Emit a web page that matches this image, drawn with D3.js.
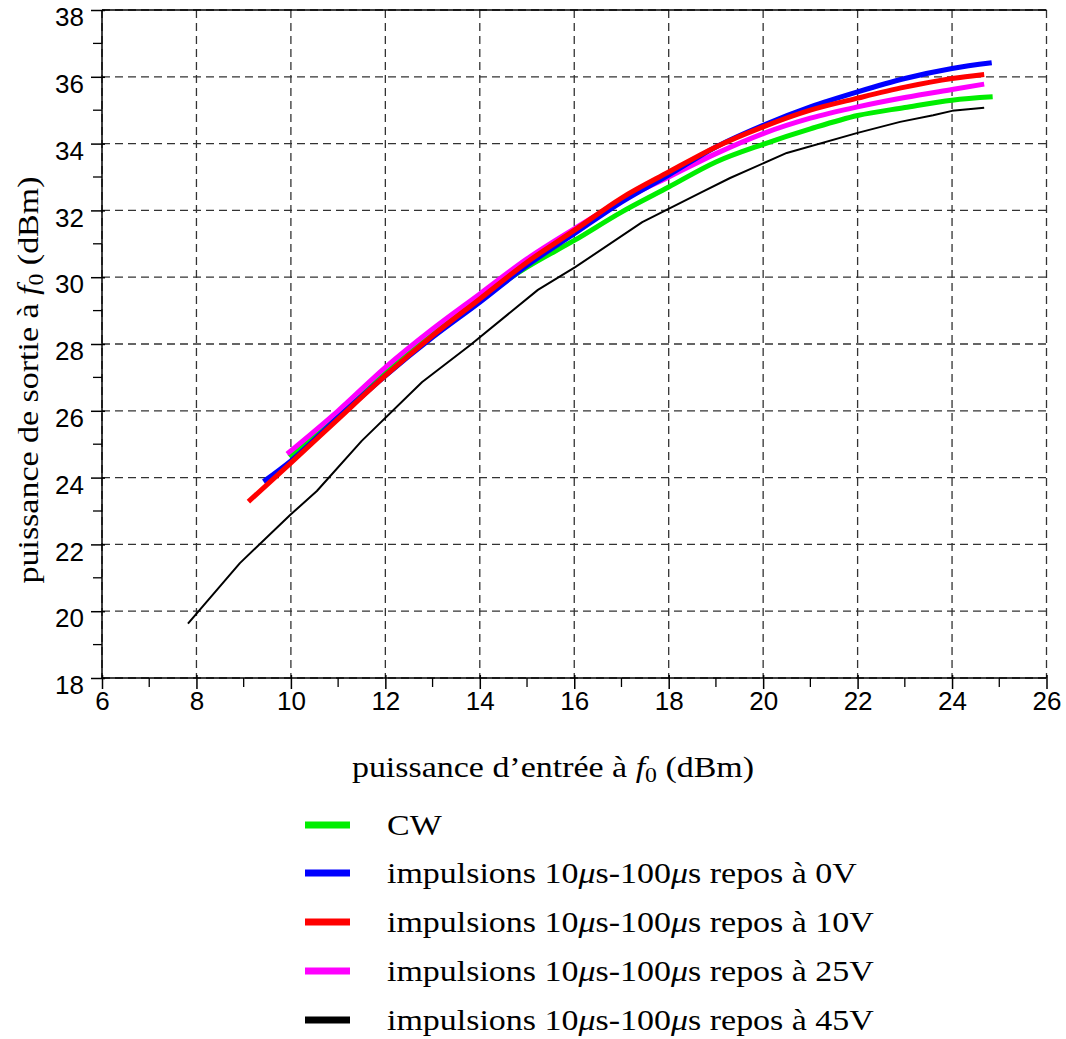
<!DOCTYPE html>
<html>
<head>
<meta charset="utf-8">
<script src="https://cdn.jsdelivr.net/npm/d3@7"></script>
<style>
  html, body { margin: 0; padding: 0; background: #fff; }
  svg { display: block; }
</style>
</head>
<body>
<svg id="chart" width="1066" height="1039"></svg>
<script>
// Input power (dBm) / output power (dBm) at f0, one array per bias condition
const cwData = [[9.96,24.63],[11,25.9],[12,27.15],[13,28.3],[14,29.35],[15,30.3],[16,31.1],[17,31.95],[18,32.7],[19,33.45],[20,33.98],[21,34.44],[22,34.84],[23,35.08],[24,35.3],[24.86,35.4]];
const pulse0V = [[9.42,23.88],[10,24.5],[11,25.8],[12,27.05],[13,28.2],[14,29.25],[15,30.35],[16,31.3],[17,32.25],[18,33.06],[19,33.9],[20,34.55],[21,35.1],[22,35.55],[23,35.95],[24,36.25],[24.84,36.42]];
const pulse10V = [[9.1,23.28],[10,24.44],[11,25.75],[12,27.05],[13,28.25],[14,29.35],[15,30.45],[16,31.4],[17,32.37],[18,33.15],[19,33.9],[20,34.5],[21,35.0],[22,35.36],[23,35.69],[24,35.95],[24.68,36.07]];
const pulse25V = [[9.92,24.71],[11,26.0],[12,27.3],[13,28.45],[14,29.5],[15,30.55],[16,31.45],[17,32.3],[18,33.0],[19,33.7],[20,34.3],[21,34.76],[22,35.1],[23,35.38],[24,35.62],[24.68,35.78]];
const pulse45V = [[7.82,19.63],[8.92,21.44],[10.0,22.9],[10.55,23.6],[11.5,25.1],[12.78,26.86],[13.8,27.97],[15.23,29.62],[16.02,30.3],[17.44,31.65],[18.7,32.55],[19.3,32.97],[20.5,33.72],[22.0,34.32],[22.9,34.65],[23.6,34.85],[24.0,34.98],[24.68,35.07]];

const xTicks = [6, 8, 10, 12, 14, 16, 18, 20, 22, 24, 26];
const yTicks = [18, 20, 22, 24, 26, 28, 30, 32, 34, 36, 38];
const xMinorTicks = [7, 9, 11, 13, 15, 17, 19, 21, 23, 25];
const yMinorTicks = [19, 21, 23, 25, 27, 29, 31, 33, 35, 37];

const seriesLabels = ["CW", "0V", "10V", "25V", "45V"];
const seriesColors = ["#00ee00", "#0000ff", "#ff0000", "#ff00ff", "#000000"];
const seriesData = [cwData, pulse0V, pulse10V, pulse25V, pulse45V];

const svg = d3.select("#chart");
const L = 102, R = 1046.5, T = 10, B = 678;

const x = d3.scaleLinear().domain([6, 26]).range([L, R]);
const y = d3.scaleLinear().domain([18, 38]).range([B, T]);

// dashed grid
const grid = svg.append("g");
grid.selectAll("line.gx").data(xTicks).join("line")
  .attr("x1", d => x(d)).attr("x2", d => x(d))
  .attr("y1", T).attr("y2", B)
  .attr("stroke", "#333").attr("stroke-width", 1.3)
  .attr("stroke-dasharray", "8,5");
grid.selectAll("line.gy").data(yTicks).join("line")
  .attr("x1", L).attr("x2", R)
  .attr("y1", d => y(d)).attr("y2", d => y(d))
  .attr("stroke", "#333").attr("stroke-width", 1.3)
  .attr("stroke-dasharray", "8,5");

// frame: solid left, bottom and top edges
svg.append("line").attr("x1", L).attr("x2", L).attr("y1", T).attr("y2", B)
  .attr("stroke", "#000").attr("stroke-width", 1.5);
svg.append("line").attr("x1", L).attr("x2", R).attr("y1", B).attr("y2", B)
  .attr("stroke", "#000").attr("stroke-width", 1.5);
svg.append("line").attr("x1", L).attr("x2", R).attr("y1", T).attr("y2", T)
  .attr("stroke", "#000").attr("stroke-width", 1.5);

// axes
const tickFont = "'Liberation Sans', Arial, sans-serif";
const xAxis = svg.append("g").attr("transform", `translate(0,${B})`)
  .call(d3.axisBottom(x).tickValues(xTicks).tickSize(11).tickSizeOuter(0).tickPadding(6).tickFormat(d3.format("d")));
const yAxis = svg.append("g").attr("transform", `translate(${L},0)`)
  .call(d3.axisLeft(y).tickValues(yTicks).tickSize(11).tickSizeOuter(0).tickPadding(7).tickFormat(d3.format("d")));
[xAxis, yAxis].forEach(a => {
  a.select(".domain").remove();
  a.selectAll("line").attr("stroke", "#000").attr("stroke-width", 1.5);
  a.selectAll("text").attr("font-family", tickFont).attr("font-size", 26).attr("fill", "#000");
});
xAxis.selectAll(".tick line").attr("y1", -3);
xAxis.selectAll(".tick text").attr("y", 14);
yAxis.selectAll(".tick line").attr("x1", 3);
yAxis.selectAll(".tick text").attr("dy", "0.6em");

// minor ticks
svg.append("g").selectAll("line").data(xMinorTicks).join("line")
  .attr("x1", d => x(d)).attr("x2", d => x(d))
  .attr("y1", B).attr("y2", B + 9)
  .attr("stroke", "#000").attr("stroke-width", 1.3);
svg.append("g").selectAll("line").data(yMinorTicks).join("line")
  .attr("x1", L - 9).attr("x2", L)
  .attr("y1", d => y(d)).attr("y2", d => y(d))
  .attr("stroke", "#000").attr("stroke-width", 1.3);

// curves
const smooth = d3.line().x(d => x(d[0])).y(d => y(d[1])).curve(d3.curveMonotoneX);
const straight = d3.line().x(d => x(d[0])).y(d => y(d[1]));
const drawOrder = [4, 0, 3, 1, 2];
drawOrder.forEach(i => {
  svg.append("path")
    .datum(seriesData[i])
    .attr("d", i === 4 ? straight : smooth)
    .attr("fill", "none")
    .attr("stroke", seriesColors[i])
    .attr("stroke-width", i === 4 ? 2 : 5)
    .attr("stroke-linejoin", "round");
});

// serif texts: titles and legend, widened a little to the roman text face width
const serif = "'Liberation Serif', 'DejaVu Serif', serif";
const serifSize = 30;
const serifTexts = [];

function powerLabel(g, prefix) {
  const t = g.append("text")
    .attr("text-anchor", "middle")
    .attr("font-family", serif).attr("font-size", serifSize).attr("fill", "#000");
  t.append("tspan").text(prefix);
  t.append("tspan").attr("font-style", "italic").text("f");
  t.append("tspan").attr("font-size", 21).attr("dy", 5).text("0");
  t.append("tspan").attr("dy", -5).text(" (dBm)");
  return t;
}

const xTitleG = svg.append("g");
powerLabel(xTitleG, "puissance d\u2019entrée à ");
serifTexts.push({ g: xTitleG, base: "translate(553,777)" });

const yTitleG = svg.append("g");
powerLabel(yTitleG, "puissance de sortie à ");
serifTexts.push({ g: yTitleG, base: "translate(38,380) rotate(-90)" });

// legend
const legendY = [825, 873, 922, 971, 1020];
let refWidth = null;
seriesLabels.forEach((lab, i) => {
  svg.append("line")
    .attr("x1", 305).attr("x2", 350)
    .attr("y1", legendY[i]).attr("y2", legendY[i])
    .attr("stroke", seriesColors[i]).attr("stroke-width", 7);
  const g = svg.append("g");
  const t = g.append("text")
    .attr("font-family", serif).attr("font-size", serifSize).attr("fill", "#000");
  if (i === 0) {
    t.text(lab);
  } else {
    t.append("tspan").text("impulsions 10");
    t.append("tspan").attr("font-style", "italic").text("μ");
    t.append("tspan").text("s-100");
    t.append("tspan").attr("font-style", "italic").text("μ");
    t.append("tspan").text("s repos à " + lab);
  }
  if (i === 1) refWidth = t.node().getComputedTextLength();
  serifTexts.push({ g: g, base: `translate(387,${legendY[i] + 10})` });
});

const widen = 470 / refWidth;
serifTexts.forEach(s => s.g.attr("transform", `${s.base} scale(${widen},1)`));
</script>
</body>
</html>
